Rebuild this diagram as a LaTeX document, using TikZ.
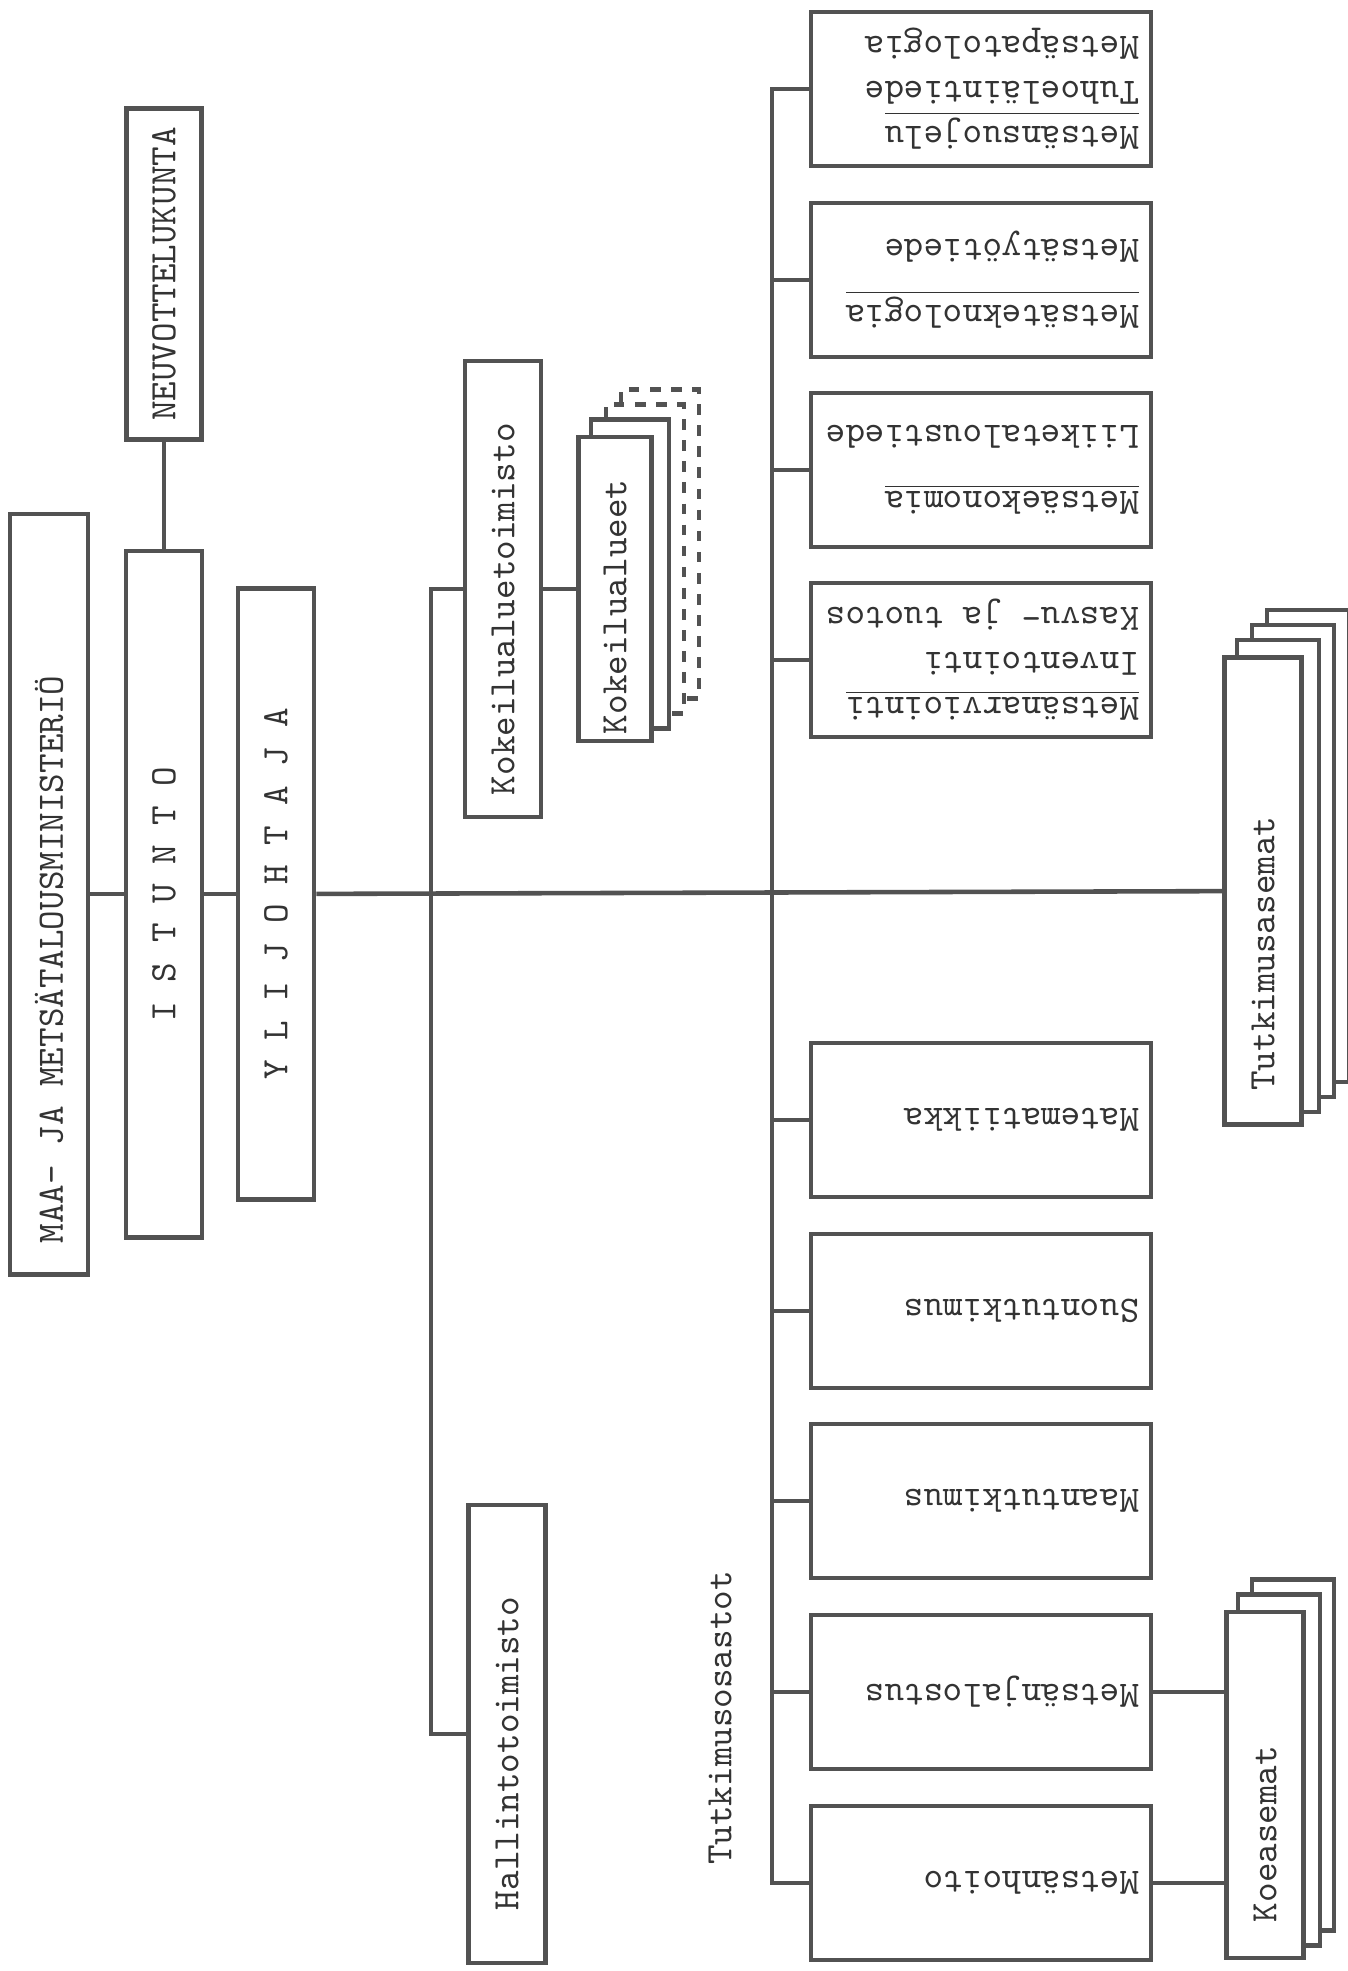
\documentclass[tikz,border=0pt]{standalone}
\usepackage{fontspec}
\usepackage{graphicx}
\usepackage{tikz}
\usetikzlibrary{calc,backgrounds}
\definecolor{ink}{gray}{0.32}
\newcommand{\uptext}[2]{\rotatebox{90}{\parbox{#1}{#2}}}
\newcommand{\fliptext}[1]{\rotatebox{180}{\parbox{3.16cm}{\raggedright #1}}}

\begin{document}
\begin{tikzpicture}[
  x=0.01cm,y=-0.01cm,
  box/.style={rectangle,draw=ink,line width=1.3pt,fill=white,inner sep=0pt,
              text=black!80,font=\ttfamily\fontsize{10.6}{12.8}\selectfont},
  unit/.style={box,minimum width=3.4cm,minimum height=1.54cm},
  link/.style={draw=ink,line width=1.3pt},
  sheet/.style={link,fill=white}
]
\useasboundingbox (0,0) rectangle (1348,1971);

% left column
\node[box,minimum width=0.78cm,minimum height=7.6cm] (mini) at (49,894)
  {\uptext{6.98cm}{MAA- JA METSÄTALOUSMINISTERIÖ}};
\node[box,minimum width=0.75cm,minimum height=3.31cm] (neuv) at (164,274)
  {\rotatebox{90}{NEUVOTTELUKUNTA}};
\node[box,minimum width=0.76cm,minimum height=6.86cm] (istu) at (164,894)
  {\rotatebox{90}{I S T U N T O}};
\node[box,minimum width=0.76cm,minimum height=6.11cm] (ylij) at (276,894)
  {\rotatebox{90}{Y L I J O H T A J A}};
\node[box,minimum width=0.76cm,minimum height=4.56cm] (ktoi) at (503,589)
  {\uptext{4.12cm}{Kokeilualuetoimisto}};
\node[box,minimum width=0.73cm,minimum height=3.04cm] (kalu) at (615,589)
  {\uptext{2.9cm}{Kokeilualueet}};
\node[box,minimum width=0.77cm,minimum height=4.58cm] (htoi) at (507,1734)
  {\uptext{3.52cm}{Hallintotoimisto}};
\node[box,draw=none,fill=none] (osas) at (720,1718) {\rotatebox{90}{Tutkimusosastot}};

% stations
\node[box,minimum width=0.77cm,minimum height=4.67cm] (tase) at (1263,891)
  {\uptext{3.99cm}{Tutkimusasemat}};
\node[box,minimum width=0.77cm,minimum height=3.46cm] (koea) at (1265,1785)
  {\uptext{2.74cm}{Koeasemat}};

% research departments
\node[unit] (suoj) at (981,89)   {\fliptext{\underline{Metsänsuojelu}\\Tuhoeläintiede\\Metsäpatologia}};
\node[unit] (tekn) at (981,280)  {\fliptext{\underline{Metsäteknologia}\\[6pt]Metsätyötiede}};
\node[unit] (ekon) at (981,470)  {\fliptext{\underline{Metsäekonomia}\\[6pt]Liiketaloustiede}};
\node[unit] (arvi) at (981,660)  {\fliptext{\underline{Metsänarviointi}\\Inventointi\\Kasvu- ja tuotos}};
\node[unit] (mate) at (981,1120) {\fliptext{Matematiikka}};
\node[unit] (suon) at (981,1311) {\fliptext{Suontutkimus}};
\node[unit] (maan) at (981,1501) {\fliptext{Maantutkimus}};
\node[unit] (jalo) at (981,1692) {\fliptext{Metsänjalostus}};
\node[unit] (hoit) at (981,1883) {\fliptext{Metsänhoito}};

\coordinate (trunk) at (431,894);
\coordinate (bus) at (772,894);

% stacked sheets behind
\begin{scope}[on background layer]
\foreach \k/\s in {3/dashed,2/dashed,1/solid}
  \draw[sheet,\s] ([shift={(15*\k,-15*\k)}]kalu.south west) rectangle ([shift={(15*\k,-15*\k)}]kalu.north east);
\foreach \k in {3,2,1}
  \draw[sheet] ([shift={(15*\k,-15*\k)}]tase.south west) rectangle ([shift={(15*\k,-15*\k)}]tase.north east);
\foreach \k in {2,1}
  \draw[sheet] ([shift={(14*\k,-15*\k)}]koea.south west) rectangle ([shift={(14*\k,-15*\k)}]koea.north east);
\end{scope}

\draw[link] (neuv) -- (istu);
\draw[link] (mini) -- (istu);
\draw[link] (istu) -- (ylij);
\draw[link] (ylij) -- (tase);
\draw[link] (ktoi.west) -| (trunk) |- (htoi.west);
\draw[link] (ktoi) -- (kalu);
\draw[link] (suoj.west) -| (bus) |- (hoit.west);
\draw[link] (bus |- tekn.west) -- (tekn.west);
\draw[link] (bus |- ekon.west) -- (ekon.west);
\draw[link] (bus |- arvi.west) -- (arvi.west);
\draw[link] (bus |- mate.west) -- (mate.west);
\draw[link] (bus |- suon.west) -- (suon.west);
\draw[link] (bus |- maan.west) -- (maan.west);
\draw[link] (bus |- jalo.west) -- (jalo.west);
\draw[link] (jalo.east) -- (jalo.east -| koea.west);
\draw[link] (hoit.east) -- (hoit.east -| koea.west);
\end{tikzpicture}
\end{document}
